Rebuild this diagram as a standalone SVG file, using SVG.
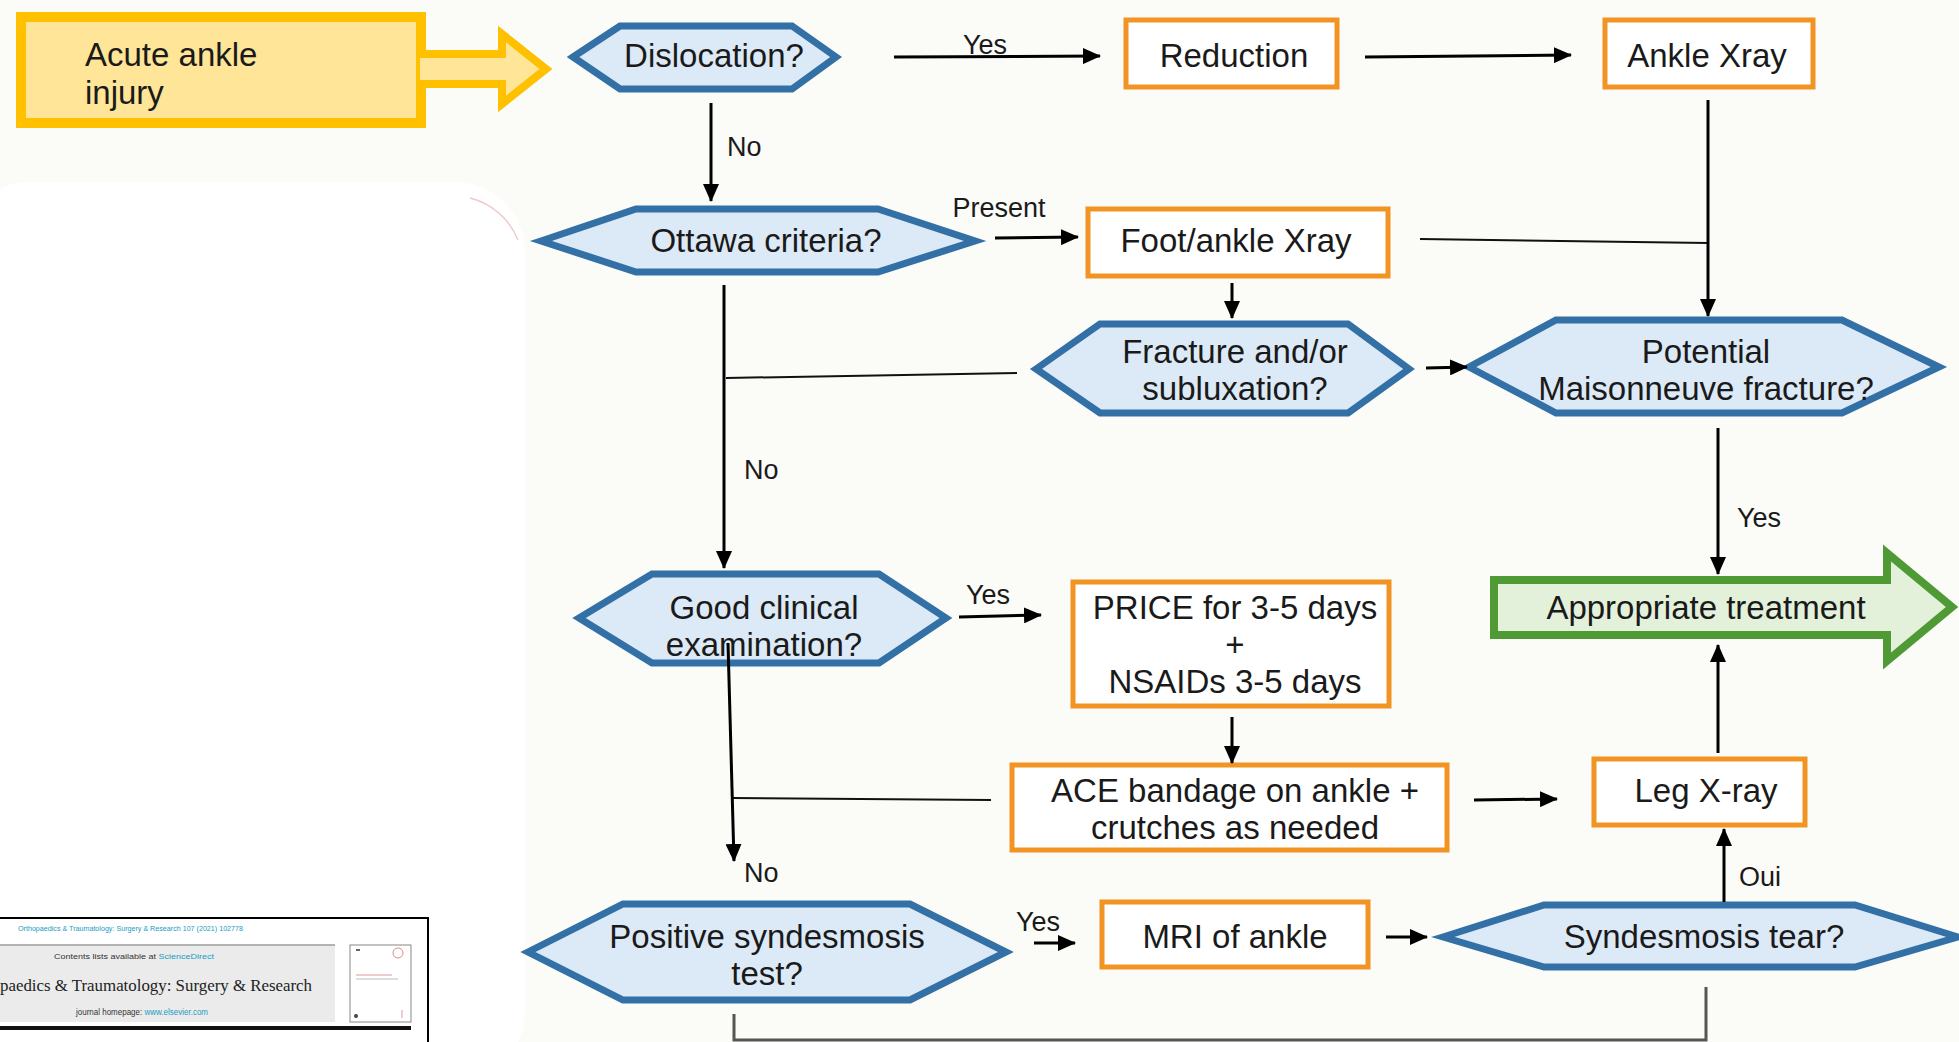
<svg xmlns="http://www.w3.org/2000/svg" width="1959" height="1042" viewBox="0 0 1959 1042">
<defs>
<marker id="ah" markerWidth="18" markerHeight="16" refX="17" refY="8" orient="auto" markerUnits="userSpaceOnUse">
<path d="M0,0 L18,8 L0,16 Z" fill="#000"/>
</marker>
<style>
.hex{fill:#DCE9F6;stroke:#3270A6;stroke-width:7;stroke-linejoin:miter}
.box{fill:#fff;stroke:#F29423;stroke-width:5}
.t{font-family:"Liberation Sans",Arial,sans-serif;font-size:33px;fill:#1a1a1a;text-anchor:middle}
.lbl{font-family:"Liberation Sans",Arial,sans-serif;font-size:27px;fill:#1a1a1a}
.c{fill:none;stroke:#000;stroke-width:3}
.ca{fill:none;stroke:#000;stroke-width:3;marker-end:url(#ah)}
.thin{fill:none;stroke:#111;stroke-width:2}
.jt{font-family:"Liberation Sans",sans-serif;fill:#333}
.cy{fill:#1a9bc2}
</style>
</defs>
<rect x="0" y="0" width="1959" height="1042" fill="#FBFBF8"/>
<rect x="-40" y="182" width="565" height="900" rx="70" fill="#FFFFFF"/>
<path d="M470,198 A70,70 0 0 1 518,240" fill="none" stroke="#F0C8C8" stroke-width="1.5"/>

<g id="acute">
<polygon points="424,54 502,54 502,34 546,69 502,104 502,84 424,84" fill="#FFE597" stroke="#FFC000" stroke-width="8" stroke-linejoin="miter"/>
<rect x="21" y="17" width="400" height="106" fill="#FFE597" stroke="#FFC000" stroke-width="10"/>
<rect x="420" y="58" width="10" height="22" fill="#FFE597"/>
<text x="85" y="66" class="t" style="text-anchor:start">Acute ankle</text>
<text x="85" y="104" class="t" style="text-anchor:start">injury</text>
</g>

<g id="dislocation">
<polygon class="hex" points="573,57 620,26 792,26 836,57 792,89 620,89"/>
<text x="714" y="67" class="t">Dislocation?</text>
</g>

<g id="reduction">
<rect class="box" x="1126" y="20" width="211" height="67"/>
<text x="1234" y="67" class="t">Reduction</text>
</g>

<g id="ankle-xray">
<rect class="box" x="1605" y="20" width="208" height="67"/>
<text x="1707" y="67" class="t">Ankle Xray</text>
</g>

<g id="ottawa">
<polygon class="hex" points="541,241 636,209 878,209 975,241 878,272 636,272"/>
<text x="766" y="252" class="t">Ottawa criteria?</text>
</g>

<g id="foot-ankle-xray">
<rect class="box" x="1088" y="209" width="300" height="67"/>
<text x="1236" y="252" class="t">Foot/ankle Xray</text>
</g>

<g id="fracture">
<polygon class="hex" points="1036,369 1100,324 1348,324 1409,369 1348,413 1100,413"/>
<text x="1235" y="363" class="t">Fracture and/or</text>
<text x="1235" y="400" class="t">subluxation?</text>
</g>

<g id="maisonneuve">
<polygon class="hex" points="1469,367 1556,320 1842,320 1939,367 1842,413 1556,413"/>
<text x="1706" y="363" class="t">Potential</text>
<text x="1706" y="400" class="t">Maisonneuve fracture?</text>
</g>

<g id="good-clinical">
<polygon class="hex" points="579,618 652,574 879,574 946,618 879,663 652,663"/>
<text x="764" y="619" class="t">Good clinical</text>
<text x="764" y="656" class="t">examination?</text>
</g>

<g id="price">
<rect class="box" x="1073" y="582" width="316" height="124"/>
<text x="1235" y="619" class="t">PRICE for 3-5 days</text>
<text x="1235" y="656" class="t">+</text>
<text x="1235" y="693" class="t">NSAIDs 3-5 days</text>
</g>

<g id="appropriate">
<polygon points="1494,580 1887,580 1887,553 1952,607 1887,661 1887,635 1494,635" fill="#E3F1DA" stroke="#4F9A34" stroke-width="8" stroke-linejoin="miter"/>
<text x="1706" y="619" class="t">Appropriate treatment</text>
</g>

<g id="ace">
<rect class="box" x="1012" y="765" width="435" height="85"/>
<text x="1235" y="802" class="t">ACE bandage on ankle +</text>
<text x="1235" y="839" class="t">crutches as needed</text>
</g>

<g id="leg-xray">
<rect class="box" x="1594" y="759" width="211" height="66"/>
<text x="1706" y="802" class="t">Leg X-ray</text>
</g>

<g id="positive">
<polygon class="hex" points="528,952 623,904 910,904 1006,952 910,1000 623,1000"/>
<text x="767" y="948" class="t">Positive syndesmosis</text>
<text x="767" y="985" class="t">test?</text>
</g>

<g id="mri">
<rect class="box" x="1102" y="902" width="266" height="65"/>
<text x="1235" y="948" class="t">MRI of ankle</text>
</g>

<g id="syndesmosis-tear">
<polygon class="hex" points="1443,937 1544,905 1855,905 1958,937 1855,967 1544,967"/>
<text x="1704" y="948" class="t">Syndesmosis tear?</text>
</g>

<g id="journal">
<rect x="-2" y="918" width="430" height="126" fill="#fff" stroke="#000" stroke-width="2"/>
<text x="18" y="931" class="jt cy" font-size="7" textLength="225" lengthAdjust="spacingAndGlyphs">Orthopaedics &amp; Traumatology: Surgery &amp; Research 107 (2021) 102778</text>
<rect x="0" y="946" width="335" height="76" fill="#EBEBEB"/>
<line x1="0" y1="945" x2="335" y2="945" stroke="#999" stroke-width="1.5"/>
<text x="54" y="959" class="jt" font-size="8" textLength="160" lengthAdjust="spacingAndGlyphs">Contents lists available at <tspan class="cy">ScienceDirect</tspan></text>
<text x="0" y="991" font-family="'Liberation Serif',serif" font-size="17" fill="#222" textLength="312" lengthAdjust="spacingAndGlyphs">paedics &amp; Traumatology: Surgery &amp; Research</text>
<text x="76" y="1015" class="jt" font-size="8.5" textLength="132" lengthAdjust="spacingAndGlyphs">journal homepage: <tspan class="cy">www.elsevier.com</tspan></text>
<rect x="350" y="945" width="61" height="77" fill="#fff" stroke="#888" stroke-width="1"/>
<line x1="356" y1="950" x2="360" y2="950" stroke="#666" stroke-width="2"/>
<circle cx="398" cy="953" r="5" fill="none" stroke="#d88" stroke-width="1"/>
<line x1="356" y1="975" x2="392" y2="975" stroke="#d99" stroke-width="1"/>
<line x1="356" y1="979" x2="398" y2="979" stroke="#bbb" stroke-width="1"/>
<circle cx="356" cy="1016" r="2" fill="#444"/>
<line x1="402" y1="1010" x2="402" y2="1018" stroke="#d99" stroke-width="1"/>
<line x1="0" y1="1028" x2="411" y2="1028" stroke="#111" stroke-width="4"/>
</g>

<g id="connectors">
<line class="ca" x1="894" y1="57" x2="1100" y2="56"/>
<line class="ca" x1="1365" y1="57" x2="1571" y2="55"/>
<line class="ca" x1="711" y1="103" x2="711" y2="201"/>
<line class="ca" x1="995" y1="238" x2="1078" y2="237"/>
<line class="thin" x1="1420" y1="239" x2="1708" y2="243"/>
<line class="ca" x1="1708" y1="100" x2="1708" y2="316"/>
<line class="ca" x1="1232" y1="283" x2="1232" y2="318"/>
<line class="ca" x1="1426" y1="368" x2="1467" y2="367"/>
<line class="ca" x1="724" y1="285" x2="724" y2="568"/>
<line class="thin" x1="1017" y1="373" x2="726" y2="378"/>
<line class="ca" x1="1718" y1="428" x2="1718" y2="574"/>
<line class="ca" x1="959" y1="617" x2="1041" y2="615"/>
<line class="ca" x1="1232" y1="717" x2="1232" y2="763"/>
<line class="thin" x1="991" y1="800" x2="733" y2="798"/>
<line class="ca" x1="728" y1="643" x2="734" y2="861"/>
<line class="ca" x1="1474" y1="800" x2="1557" y2="799"/>
<line class="ca" x1="1718" y1="753" x2="1718" y2="645"/>
<line class="ca" x1="1034" y1="943" x2="1075" y2="943"/>
<line class="ca" x1="1386" y1="937" x2="1427" y2="937"/>
<line class="ca" x1="1724" y1="902" x2="1724" y2="829"/>
<polyline points="734,1014 734,1040 1706,1040 1706,987" fill="none" stroke="#555" stroke-width="3"/>
<text x="985" y="54" class="lbl" text-anchor="middle">Yes</text>
<text x="727" y="156" class="lbl">No</text>
<text x="999" y="217" class="lbl" text-anchor="middle">Present</text>
<text x="744" y="479" class="lbl">No</text>
<text x="1737" y="527" class="lbl">Yes</text>
<text x="988" y="604" class="lbl" text-anchor="middle">Yes</text>
<text x="744" y="882" class="lbl">No</text>
<text x="1038" y="931" class="lbl" text-anchor="middle">Yes</text>
<text x="1739" y="886" class="lbl">Oui</text>
</g>
</svg>
